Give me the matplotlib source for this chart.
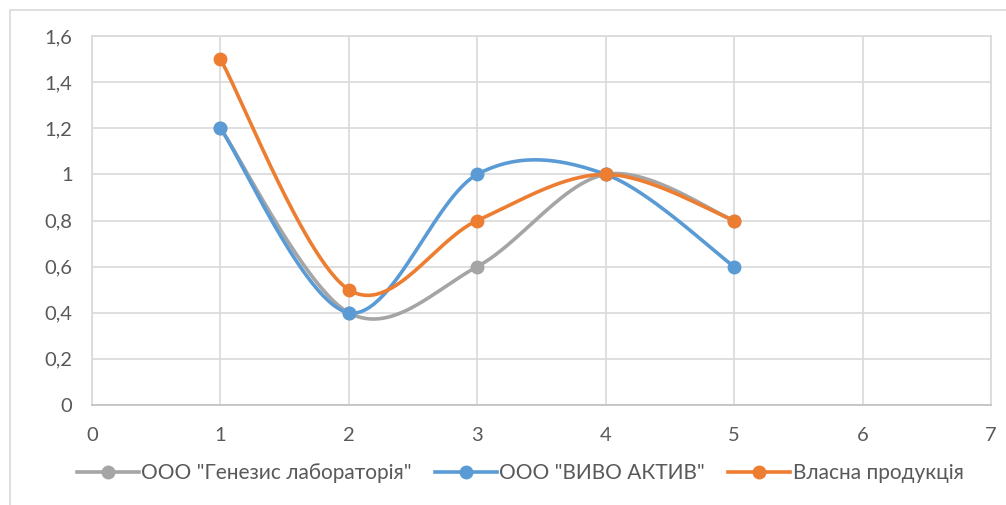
import numpy as np
import matplotlib
matplotlib.use("Agg")
import matplotlib.pyplot as plt
from matplotlib.lines import Line2D
from matplotlib.patches import Rectangle

x_vals = [1, 2, 3, 4, 5]
series_names = ['ООО "Генезис лабораторія"', 'ООО "ВИВО АКТИВ"', 'Власна продукція']
genesis = [1.2, 0.4, 0.6, 1.0, 0.8]
vivo = [1.2, 0.4, 1.0, 1.0, 0.6]
own = [1.5, 0.5, 0.8, 1.0, 0.8]
colors = ['#A5A5A5', '#5B9BD5', '#ED7D31']
y_ticks = [0, 0.2, 0.4, 0.6, 0.8, 1.0, 1.2, 1.4, 1.6]
y_tick_labels = ['0', '0,2', '0,4', '0,6', '0,8', '1', '1,2', '1,4', '1,6']
x_ticks = [0, 1, 2, 3, 4, 5, 6, 7]

plt.rcParams['font.family'] = ['Lato', 'DejaVu Sans']


def smooth(xs, ys, n=60):
    xs = np.asarray(xs, float)
    ys = np.asarray(ys, float)
    px, py = [], []
    k = len(xs)
    for i in range(k - 1):
        i0 = max(i - 1, 0)
        i3 = min(i + 2, k - 1)
        c1x = xs[i] + (xs[i + 1] - xs[i0]) / 6
        c1y = ys[i] + (ys[i + 1] - ys[i0]) / 6
        c2x = xs[i + 1] - (xs[i3] - xs[i]) / 6
        c2y = ys[i + 1] - (ys[i3] - ys[i]) / 6
        t = np.linspace(0, 1, n)
        bx = (1 - t) ** 3 * xs[i] + 3 * (1 - t) ** 2 * t * c1x + 3 * (1 - t) * t ** 2 * c2x + t ** 3 * xs[i + 1]
        by = (1 - t) ** 3 * ys[i] + 3 * (1 - t) ** 2 * t * c1y + 3 * (1 - t) * t ** 2 * c2y + t ** 3 * ys[i + 1]
        px.extend(bx)
        py.extend(by)
    return px, py


fig = plt.figure(figsize=(10.06, 5.05), dpi=100)
fig.patches.append(Rectangle((10 / 1006, -0.1), 1.2, 1 - 10 / 505 + 0.1, transform=fig.transFigure,
                             fill=False, edgecolor='#D9D9D9', linewidth=1.2))
ax = fig.add_axes([92 / 1006, 1 - 405 / 505, (991 - 92) / 1006, (405 - 36) / 505])

for ys, c, name in zip([genesis, vivo, own], colors, series_names):
    sx, sy = smooth(x_vals, ys)
    ax.plot(sx, sy, color=c, linewidth=2.6, solid_capstyle='round', zorder=3)
    ax.plot(x_vals, ys, linestyle='none', marker='o', markersize=9, color=c, zorder=4)

ax.set_xlim(0, 7)
ax.set_ylim(0, 1.6)
ax.set_xticks(x_ticks)
ax.set_xticklabels([str(v) for v in x_ticks])
ax.set_yticks(y_ticks)
ax.set_yticklabels(y_tick_labels)
ax.grid(True, color='#D9D9D9', linewidth=1.2)
ax.set_axisbelow(True)
for s in ax.spines.values():
    s.set_color('#D9D9D9')
    s.set_linewidth(1.2)
ax.spines['bottom'].set_color('#BFBFBF')
ax.tick_params(length=0, labelsize=14.5, labelcolor='#595959')
ax.tick_params(axis='x', pad=16)
ax.tick_params(axis='y', pad=14)

handles = [Line2D([0], [0], color=c, linewidth=2.6, marker='o', markersize=9) for c in colors]
fig.legend(handles, series_names, loc='center', bbox_to_anchor=(520 / 1006, 1 - 473 / 505), ncol=3,
           frameon=False, fontsize=15, labelcolor='#595959', handlelength=3.0, columnspacing=1.1,
           handletextpad=0.1)

fig.savefig('out.png', dpi=100)
